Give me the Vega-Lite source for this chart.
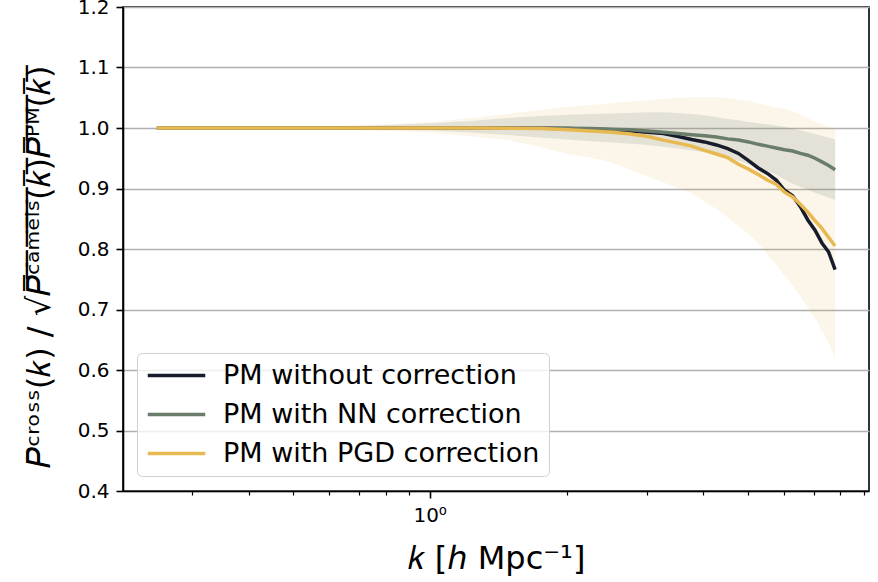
{
  "$schema": "https://vega.github.io/schema/vega-lite/v6.json",
  "autosize": {"type": "none"},
  "width": 746,
  "height": 484,
  "padding": {"left": 123, "top": 7, "right": 9, "bottom": 91},
  "background": "white",
  "config": {
    "view": {"stroke": "black", "strokeWidth": 1.6},
    "font": "DejaVu Sans"
  },
  "datasets": {
    "bands": [
      {"k": 0.2513, "glo": 0.999, "ghi": 1.001, "nlo": 1.000, "nhi": 1.000},
      {"k": 0.5027, "glo": 0.998, "ghi": 1.002, "nlo": 0.999, "nhi": 1.001},
      {"k": 0.754, "glo": 0.996, "ghi": 1.005, "nlo": 0.998, "nhi": 1.004},
      {"k": 1.0053, "glo": 0.992, "ghi": 1.010, "nlo": 0.996, "nhi": 1.008},
      {"k": 1.2566, "glo": 0.986, "ghi": 1.017, "nlo": 0.992, "nhi": 1.012},
      {"k": 1.508, "glo": 0.979, "ghi": 1.024, "nlo": 0.988, "nhi": 1.017},
      {"k": 1.7593, "glo": 0.968, "ghi": 1.030, "nlo": 0.984, "nhi": 1.020},
      {"k": 2.0106, "glo": 0.957, "ghi": 1.035, "nlo": 0.981, "nhi": 1.022},
      {"k": 2.2619, "glo": 0.951, "ghi": 1.038, "nlo": 0.978, "nhi": 1.023},
      {"k": 2.5133, "glo": 0.943, "ghi": 1.041, "nlo": 0.976, "nhi": 1.024},
      {"k": 2.7646, "glo": 0.931, "ghi": 1.044, "nlo": 0.974, "nhi": 1.025},
      {"k": 3.0159, "glo": 0.920, "ghi": 1.046, "nlo": 0.972, "nhi": 1.026},
      {"k": 3.2673, "glo": 0.910, "ghi": 1.048, "nlo": 0.969, "nhi": 1.026},
      {"k": 3.5186, "glo": 0.901, "ghi": 1.050, "nlo": 0.966, "nhi": 1.025},
      {"k": 3.7699, "glo": 0.892, "ghi": 1.051, "nlo": 0.963, "nhi": 1.023},
      {"k": 4.0212, "glo": 0.878, "ghi": 1.051, "nlo": 0.960, "nhi": 1.021},
      {"k": 4.2726, "glo": 0.866, "ghi": 1.051, "nlo": 0.956, "nhi": 1.018},
      {"k": 4.5239, "glo": 0.852, "ghi": 1.050, "nlo": 0.951, "nhi": 1.015},
      {"k": 4.7752, "glo": 0.838, "ghi": 1.047, "nlo": 0.946, "nhi": 1.013},
      {"k": 5.0265, "glo": 0.825, "ghi": 1.045, "nlo": 0.940, "nhi": 1.010},
      {"k": 5.2779, "glo": 0.810, "ghi": 1.041, "nlo": 0.934, "nhi": 1.008},
      {"k": 5.5292, "glo": 0.791, "ghi": 1.037, "nlo": 0.929, "nhi": 1.006},
      {"k": 5.7805, "glo": 0.774, "ghi": 1.034, "nlo": 0.923, "nhi": 1.004},
      {"k": 6.0319, "glo": 0.756, "ghi": 1.032, "nlo": 0.915, "nhi": 1.002},
      {"k": 6.2832, "glo": 0.740, "ghi": 1.028, "nlo": 0.908, "nhi": 0.999},
      {"k": 6.5345, "glo": 0.722, "ghi": 1.022, "nlo": 0.903, "nhi": 0.996},
      {"k": 6.7858, "glo": 0.703, "ghi": 1.016, "nlo": 0.898, "nhi": 0.993},
      {"k": 7.0372, "glo": 0.686, "ghi": 1.010, "nlo": 0.893, "nhi": 0.990},
      {"k": 7.2885, "glo": 0.665, "ghi": 1.006, "nlo": 0.889, "nhi": 0.987},
      {"k": 7.5398, "glo": 0.645, "ghi": 1.002, "nlo": 0.885, "nhi": 0.984},
      {"k": 7.7911, "glo": 0.618, "ghi": 0.998, "nlo": 0.881, "nhi": 0.981}
    ],
    "lines": [
      {"k": 0.2513, "s": "PM without correction", "v": 1.000},
      {"k": 0.5027, "s": "PM without correction", "v": 1.000},
      {"k": 0.754, "s": "PM without correction", "v": 1.000},
      {"k": 1.0053, "s": "PM without correction", "v": 1.000},
      {"k": 1.2566, "s": "PM without correction", "v": 1.000},
      {"k": 1.508, "s": "PM without correction", "v": 1.000},
      {"k": 1.7593, "s": "PM without correction", "v": 0.9995},
      {"k": 2.0106, "s": "PM without correction", "v": 0.999},
      {"k": 2.2619, "s": "PM without correction", "v": 0.998},
      {"k": 2.5133, "s": "PM without correction", "v": 0.997},
      {"k": 2.7646, "s": "PM without correction", "v": 0.995},
      {"k": 3.0159, "s": "PM without correction", "v": 0.993},
      {"k": 3.2673, "s": "PM without correction", "v": 0.991},
      {"k": 3.5186, "s": "PM without correction", "v": 0.986},
      {"k": 3.7699, "s": "PM without correction", "v": 0.981},
      {"k": 4.0212, "s": "PM without correction", "v": 0.977},
      {"k": 4.2726, "s": "PM without correction", "v": 0.972},
      {"k": 4.5239, "s": "PM without correction", "v": 0.966},
      {"k": 4.7752, "s": "PM without correction", "v": 0.958},
      {"k": 5.0265, "s": "PM without correction", "v": 0.946},
      {"k": 5.2779, "s": "PM without correction", "v": 0.934},
      {"k": 5.5292, "s": "PM without correction", "v": 0.925},
      {"k": 5.7805, "s": "PM without correction", "v": 0.914},
      {"k": 6.0319, "s": "PM without correction", "v": 0.897},
      {"k": 6.2832, "s": "PM without correction", "v": 0.888},
      {"k": 6.5345, "s": "PM without correction", "v": 0.870},
      {"k": 6.7858, "s": "PM without correction", "v": 0.848},
      {"k": 7.0372, "s": "PM without correction", "v": 0.831},
      {"k": 7.2885, "s": "PM without correction", "v": 0.810},
      {"k": 7.5398, "s": "PM without correction", "v": 0.795},
      {"k": 7.7911, "s": "PM without correction", "v": 0.766},
      {"k": 0.2513, "s": "PM with NN correction", "v": 1.000},
      {"k": 0.5027, "s": "PM with NN correction", "v": 1.000},
      {"k": 0.754, "s": "PM with NN correction", "v": 1.000},
      {"k": 1.0053, "s": "PM with NN correction", "v": 1.000},
      {"k": 1.2566, "s": "PM with NN correction", "v": 1.000},
      {"k": 1.508, "s": "PM with NN correction", "v": 1.000},
      {"k": 1.7593, "s": "PM with NN correction", "v": 1.000},
      {"k": 2.0106, "s": "PM with NN correction", "v": 0.9995},
      {"k": 2.2619, "s": "PM with NN correction", "v": 0.999},
      {"k": 2.5133, "s": "PM with NN correction", "v": 0.998},
      {"k": 2.7646, "s": "PM with NN correction", "v": 0.997},
      {"k": 3.0159, "s": "PM with NN correction", "v": 0.995},
      {"k": 3.2673, "s": "PM with NN correction", "v": 0.993},
      {"k": 3.5186, "s": "PM with NN correction", "v": 0.991},
      {"k": 3.7699, "s": "PM with NN correction", "v": 0.989},
      {"k": 4.0212, "s": "PM with NN correction", "v": 0.987},
      {"k": 4.2726, "s": "PM with NN correction", "v": 0.985},
      {"k": 4.5239, "s": "PM with NN correction", "v": 0.982},
      {"k": 4.7752, "s": "PM with NN correction", "v": 0.980},
      {"k": 5.0265, "s": "PM with NN correction", "v": 0.977},
      {"k": 5.2779, "s": "PM with NN correction", "v": 0.973},
      {"k": 5.5292, "s": "PM with NN correction", "v": 0.970},
      {"k": 5.7805, "s": "PM with NN correction", "v": 0.967},
      {"k": 6.0319, "s": "PM with NN correction", "v": 0.964},
      {"k": 6.2832, "s": "PM with NN correction", "v": 0.962},
      {"k": 6.5345, "s": "PM with NN correction", "v": 0.958},
      {"k": 6.7858, "s": "PM with NN correction", "v": 0.955},
      {"k": 7.0372, "s": "PM with NN correction", "v": 0.950},
      {"k": 7.2885, "s": "PM with NN correction", "v": 0.944},
      {"k": 7.5398, "s": "PM with NN correction", "v": 0.938},
      {"k": 7.7911, "s": "PM with NN correction", "v": 0.931},
      {"k": 0.2513, "s": "PM with PGD correction", "v": 1.000},
      {"k": 0.5027, "s": "PM with PGD correction", "v": 1.000},
      {"k": 0.754, "s": "PM with PGD correction", "v": 1.000},
      {"k": 1.0053, "s": "PM with PGD correction", "v": 1.000},
      {"k": 1.2566, "s": "PM with PGD correction", "v": 1.000},
      {"k": 1.508, "s": "PM with PGD correction", "v": 0.9995},
      {"k": 1.7593, "s": "PM with PGD correction", "v": 0.999},
      {"k": 2.0106, "s": "PM with PGD correction", "v": 0.997},
      {"k": 2.2619, "s": "PM with PGD correction", "v": 0.995},
      {"k": 2.5133, "s": "PM with PGD correction", "v": 0.993},
      {"k": 2.7646, "s": "PM with PGD correction", "v": 0.990},
      {"k": 3.0159, "s": "PM with PGD correction", "v": 0.986},
      {"k": 3.2673, "s": "PM with PGD correction", "v": 0.980},
      {"k": 3.5186, "s": "PM with PGD correction", "v": 0.975},
      {"k": 3.7699, "s": "PM with PGD correction", "v": 0.970},
      {"k": 4.0212, "s": "PM with PGD correction", "v": 0.963},
      {"k": 4.2726, "s": "PM with PGD correction", "v": 0.957},
      {"k": 4.5239, "s": "PM with PGD correction", "v": 0.951},
      {"k": 4.7752, "s": "PM with PGD correction", "v": 0.940},
      {"k": 5.0265, "s": "PM with PGD correction", "v": 0.932},
      {"k": 5.2779, "s": "PM with PGD correction", "v": 0.923},
      {"k": 5.5292, "s": "PM with PGD correction", "v": 0.914},
      {"k": 5.7805, "s": "PM with PGD correction", "v": 0.907},
      {"k": 6.0319, "s": "PM with PGD correction", "v": 0.894},
      {"k": 6.2832, "s": "PM with PGD correction", "v": 0.886},
      {"k": 6.5345, "s": "PM with PGD correction", "v": 0.874},
      {"k": 6.7858, "s": "PM with PGD correction", "v": 0.861},
      {"k": 7.0372, "s": "PM with PGD correction", "v": 0.847},
      {"k": 7.2885, "s": "PM with PGD correction", "v": 0.834},
      {"k": 7.5398, "s": "PM with PGD correction", "v": 0.819},
      {"k": 7.7911, "s": "PM with PGD correction", "v": 0.805}
    ]
  },
  "layer": [
    {
      "data": {"name": "bands"},
      "mark": {"type": "area", "color": "#e8b84f", "opacity": 0.12},
      "encoding": {
        "x": {
          "field": "k", "type": "quantitative",
          "scale": {"type": "log", "domain": [0.2117, 9.25], "nice": false, "zero": false},
          "axis": {
            "values": [0.3, 0.4, 0.5, 0.6, 0.7, 0.8, 0.9, 1, 2, 3, 4, 5, 6, 7, 8, 9],
            "labelExpr": "datum.value == 1 ? '10⁰' : ''",
            "grid": false,
            "labelOverlap": false,
            "labelFontSize": 20,
            "labelFont": "DejaVu Sans",
            "labelColor": "black",
            "labelPadding": 7,
            "tickColor": "black",
            "tickSize": {"condition": {"test": "datum.value == 1", "value": 7}, "value": 4},
            "tickWidth": {"condition": {"test": "datum.value == 1", "value": 1.6}, "value": 1.2},
            "domainColor": "black",
            "domainWidth": 1.6,
            "title": "𝑘 [ℎ Mpc⁻¹]",
            "titleFont": "DejaVu Sans",
            "titleFontSize": 32,
            "titleFontWeight": "normal",
            "titleColor": "black",
            "titlePadding": 18
          }
        },
        "y": {
          "field": "glo", "type": "quantitative",
          "scale": {"domain": [0.4, 1.2], "nice": false, "zero": false},
          "axis": {
            "values": [0.4, 0.5, 0.6, 0.7, 0.8, 0.9, 1.0, 1.1, 1.2],
            "format": ".1f",
            "grid": true,
            "gridColor": "#b0b0b0",
            "gridWidth": 1.6,
            "labelFontSize": 20,
            "labelFont": "DejaVu Sans",
            "labelColor": "black",
            "labelPadding": 7,
            "tickColor": "black",
            "tickSize": 7,
            "tickWidth": 1.6,
            "domainColor": "black",
            "domainWidth": 1.6,
            "title": "𝑃ᶜʳᵒˢˢ(𝑘) / √𝑃\u0305ᶜ\u0305ᵃ\u0305ᵐ\u0305ᵉ\u0305ˡ\u0305ˢ\u0305(\u0305𝑘\u0305)\u0305𝑃\u0305ᴾ\u0305ᴹ\u0305(\u0305𝑘\u0305)\u0305",
            "titleFont": "DejaVu Sans",
            "titleFontSize": 32,
            "titleFontWeight": "normal",
            "titleColor": "black",
            "titlePadding": 21,
            "titleY": 259
          }
        },
        "y2": {"field": "ghi"}
      }
    },
    {
      "data": {"name": "bands"},
      "mark": {"type": "area", "color": "#6b7f6e", "opacity": 0.16},
      "encoding": {
        "x": {"field": "k", "type": "quantitative"},
        "y": {"field": "nlo", "type": "quantitative"},
        "y2": {"field": "nhi"}
      }
    },
    {
      "mark": {"type": "rule", "color": "#b0b0b0", "strokeWidth": 1.6},
      "encoding": {"x": {"datum": 1, "type": "quantitative"}}
    },
    {
      "data": {"name": "lines"},
      "transform": [{"filter": "datum.s == 'PM without correction'"}],
      "mark": {"type": "line", "strokeWidth": 3.5},
      "encoding": {
        "x": {"field": "k", "type": "quantitative"},
        "y": {"field": "v", "type": "quantitative"},
        "color": {
          "field": "s", "type": "nominal",
          "scale": {
            "domain": ["PM without correction", "PM with NN correction", "PM with PGD correction"],
            "range": ["#161c2c", "#6a7d6b", "#e8b950"]
          },
          "legend": {
            "title": null,
            "orient": "none",
            "legendX": 14,
            "legendY": 346,
            "symbolType": "M-2.5,0H2.5",
            "symbolSize": 529,
            "symbolStrokeWidth": 3.5,
            "symbolOffset": 17,
            "labelFontSize": 27,
            "labelFont": "DejaVu Sans",
            "labelColor": "black",
            "labelOffset": 33,
            "labelLimit": 600,
            "fillColor": "rgba(255,255,255,0.8)",
            "strokeColor": "#d0d0d0",
            "cornerRadius": 5,
            "padding": 9,
            "rowPadding": 11
          }
        }
      }
    },
    {
      "data": {"name": "lines"},
      "transform": [{"filter": "datum.s == 'PM with NN correction'"}],
      "mark": {"type": "line", "strokeWidth": 3.5},
      "encoding": {
        "x": {"field": "k", "type": "quantitative"},
        "y": {"field": "v", "type": "quantitative"},
        "color": {"field": "s", "type": "nominal"}
      }
    },
    {
      "data": {"name": "lines"},
      "transform": [{"filter": "datum.s == 'PM with PGD correction'"}],
      "mark": {"type": "line", "strokeWidth": 3.5},
      "encoding": {
        "x": {"field": "k", "type": "quantitative"},
        "y": {"field": "v", "type": "quantitative"},
        "color": {"field": "s", "type": "nominal"}
      }
    },
    {
      "mark": {"type": "rule", "color": "black", "strokeWidth": 4, "strokeDash": [14.8, 6.4]},
      "encoding": {"y": {"datum": 1.0, "type": "quantitative"}}
    }
  ]
}
